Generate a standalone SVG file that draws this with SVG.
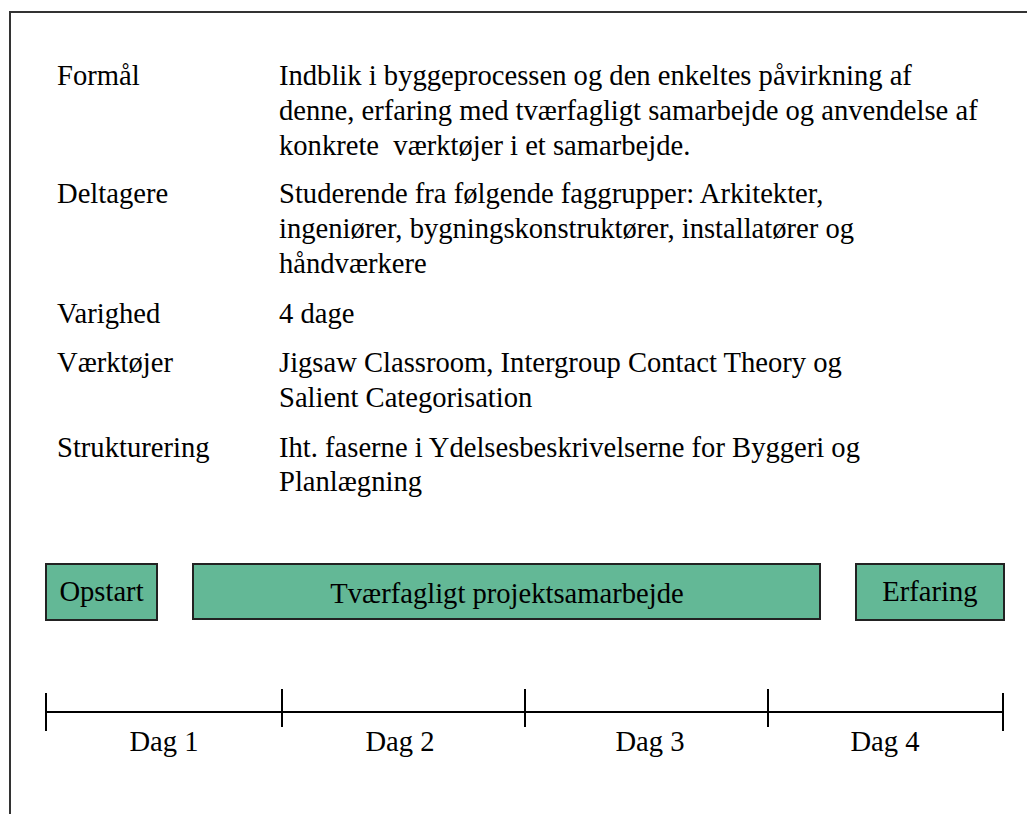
<svg xmlns="http://www.w3.org/2000/svg" width="1027" height="814" viewBox="0 0 1027 814">
  <style>
    text { font-family: "Liberation Serif", "Times New Roman", serif; font-size: 28.6px; fill: #000; white-space: pre; }
    .box { fill: #63b896; stroke: #222; stroke-width: 2; }
    .axis { stroke: #000; stroke-width: 2; fill: none; }
    .mid { text-anchor: middle; }
  </style>
  <rect width="1027" height="814" fill="#fff"/>
  <!-- frame -->
  <path d="M10,814 V12 H1027" fill="none" stroke="#333" stroke-width="2"/>

  <!-- description table -->
  <g id="table">
    <text x="57" y="85">Formål</text>
    <text x="279" y="85">Indblik i byggeprocessen og den enkeltes påvirkning af</text>
    <text x="279" y="120">denne, erfaring med tværfagligt samarbejde og anvendelse af</text>
    <text x="279" y="155">konkrete  værktøjer i et samarbejde.</text>
    <text x="57" y="203">Deltagere</text>
    <text x="279" y="203">Studerende fra følgende faggrupper: Arkitekter,</text>
    <text x="279" y="238">ingeniører, bygningskonstruktører, installatører og</text>
    <text x="279" y="273">håndværkere</text>
    <text x="57" y="323">Varighed</text>
    <text x="279" y="323">4 dage</text>
    <text x="57" y="372">Værktøjer</text>
    <text x="279" y="372">Jigsaw Classroom, Intergroup Contact Theory og</text>
    <text x="279" y="407">Salient Categorisation</text>
    <text x="57" y="457">Strukturering</text>
    <text x="279" y="457">Iht. faserne i Ydelsesbeskrivelserne for Byggeri og</text>
    <text x="279" y="491">Planlægning</text>
  </g>

  <!-- phases -->
  <g id="opstart">
    <rect class="box" x="46" y="564" width="111" height="56"/>
    <text class="mid" x="101.5" y="601">Opstart</text>
  </g>
  <g id="samarbejde">
    <rect class="box" x="193" y="564" width="627" height="55"/>
    <text class="mid" x="507" y="603">Tværfagligt projektsamarbejde</text>
  </g>
  <g id="erfaring">
    <rect class="box" x="856" y="564" width="148" height="56"/>
    <text class="mid" x="930" y="601">Erfaring</text>
  </g>

  <!-- day timeline -->
  <g id="timeline">
    <path class="axis" d="M46,712 H1003 M46,693 V731 M1003,693 V731 M282,689 V727 M525,689 V727 M768,689 V727"/>
    <text class="mid" x="164" y="751">Dag 1</text>
    <text class="mid" x="400" y="751">Dag 2</text>
    <text class="mid" x="650" y="751">Dag 3</text>
    <text class="mid" x="885" y="751">Dag 4</text>
  </g>
</svg>
